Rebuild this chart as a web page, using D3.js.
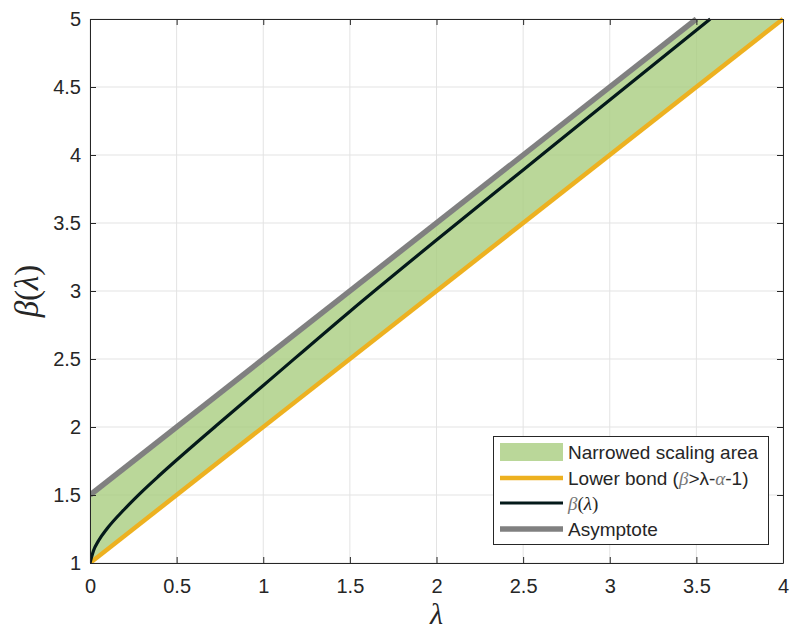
<!DOCTYPE html>
<html>
<head>
<meta charset="utf-8">
<script src="https://cdn.jsdelivr.net/npm/d3@7"></script>
<style>
  body { margin: 0; background: #fff; }
  svg { display: block; }
  text { font-family: "Liberation Sans", Arial, sans-serif; fill: #262626; }
</style>
</head>
<body>
<script>
// values
var lambdaVals = [0, 0.02, 0.05, 0.1, 0.2, 0.3, 0.4, 0.5, 0.75, 1, 1.5, 2, 2.5, 3, 3.58];
var betaVals   = [1, 1.09, 1.165, 1.255, 1.397, 1.525, 1.643, 1.757, 2.033, 2.305, 2.85, 3.375, 3.89, 4.405, 5.0];

var areaLambda = [0, 3.5, 4];
var areaUpper  = [1.5, 5, 5];
var areaLower  = [1, 4.5, 5];

var lowerLambda = [0, 4];
var lowerBeta   = [1, 5];

var asymLambda = [0, 3.5];
var asymBeta   = [1.5, 5];

var xTicks = [0, 0.5, 1, 1.5, 2, 2.5, 3, 3.5, 4];
var yTicks = [1, 1.5, 2, 2.5, 3, 3.5, 4, 4.5, 5];

var legendLabels = ["Narrowed scaling area", "Lower bond", "β(λ)", "Asymptote"];

var width = 792, height = 639;
var pLeft = 90, pRight = 783, pTop = 19, pBottom = 563;

var svg = d3.select("body").append("svg")
    .attr("width", width)
    .attr("height", height);

var x = d3.scaleLinear().domain([0, 4]).range([pLeft, pRight]);
var y = d3.scaleLinear().domain([1, 5]).range([pBottom, pTop]);

svg.append("defs").append("clipPath").attr("id", "plotclip")
  .append("rect")
    .attr("x", pLeft).attr("y", pTop - 2)
    .attr("width", pRight - pLeft + 2).attr("height", pBottom - pTop + 2);

// grid
svg.append("g").selectAll("line")
  .data(xTicks).enter().append("line")
    .attr("x1", function(d) { return x(d); })
    .attr("x2", function(d) { return x(d); })
    .attr("y1", pTop).attr("y2", pBottom)
    .attr("stroke", "#e3e3e3").attr("stroke-width", 1);
svg.append("g").selectAll("line")
  .data(yTicks).enter().append("line")
    .attr("y1", function(d) { return y(d); })
    .attr("y2", function(d) { return y(d); })
    .attr("x1", pLeft).attr("x2", pRight)
    .attr("stroke", "#e3e3e3").attr("stroke-width", 1);

var plot = svg.append("g").attr("clip-path", "url(#plotclip)");

// fill between lower bound and asymptote
var areaData = areaLambda.map(function(l, i) { return {l: l, lo: areaLower[i], hi: areaUpper[i]}; });
plot.append("path")
    .datum(areaData)
    .attr("fill", "#a9cd80")
    .attr("fill-opacity", 0.8)
    .attr("d", d3.area()
        .x(function(d) { return x(d.l); })
        .y0(function(d) { return y(d.lo); })
        .y1(function(d) { return y(d.hi); }));

var line = d3.line()
    .x(function(d) { return x(d[0]); })
    .y(function(d) { return y(d[1]); });

plot.append("path")
    .datum(d3.zip(lowerLambda, lowerBeta))
    .attr("fill", "none")
    .attr("stroke", "#edb120")
    .attr("stroke-width", 4.5)
    .attr("d", line);

plot.append("path")
    .datum(d3.zip(lambdaVals, betaVals))
    .attr("fill", "none")
    .attr("stroke", "#04191a")
    .attr("stroke-width", 3.2)
    .attr("d", d3.line()
        .x(function(d) { return x(d[0]); })
        .y(function(d) { return y(d[1]); })
        .curve(d3.curveMonotoneX));

plot.append("path")
    .datum(d3.zip(asymLambda, asymBeta))
    .attr("fill", "none")
    .attr("stroke", "#808080")
    .attr("stroke-width", 5.5)
    .attr("d", line);

// axes
var axisColor = "#262626";
var xAxis = svg.append("g")
    .attr("transform", "translate(0," + pBottom + ")")
    .call(d3.axisBottom(x).tickValues(xTicks).tickSizeInner(-6).tickSizeOuter(0).tickPadding(16)
        .tickFormat(d3.format("")));
var xAxisTop = svg.append("g")
    .attr("transform", "translate(0," + pTop + ")")
    .call(d3.axisTop(x).tickValues(xTicks).tickSizeInner(-6).tickSizeOuter(0).tickFormat(""));
var yAxis = svg.append("g")
    .attr("transform", "translate(" + pLeft + ",0)")
    .call(d3.axisLeft(y).tickValues(yTicks).tickSizeInner(-6).tickSizeOuter(0).tickPadding(9)
        .tickFormat(d3.format("")));
var yAxisRight = svg.append("g")
    .attr("transform", "translate(" + pRight + ",0)")
    .call(d3.axisRight(y).tickValues(yTicks).tickSizeInner(-6).tickSizeOuter(0).tickFormat(""));

[xAxis, xAxisTop, yAxis, yAxisRight].forEach(function(g) {
  g.select(".domain").attr("stroke", axisColor).attr("stroke-width", 1);
  g.selectAll(".tick line").attr("stroke", axisColor);
  g.selectAll(".tick text")
    .style("font-family", "'Liberation Sans', Arial, sans-serif")
    .style("font-size", "20px")
    .attr("fill", axisColor);
});

// axis labels
svg.append("text")
    .attr("x", (pLeft + pRight) / 2)
    .attr("y", 624)
    .attr("text-anchor", "middle")
    .style("font-family", "'Liberation Serif', 'DejaVu Serif', serif")
    .style("font-style", "italic")
    .style("font-size", "30px")
    .text("λ");

var yl = svg.append("text")
    .attr("transform", "translate(38," + ((pTop + pBottom) / 2) + ") rotate(-90)")
    .attr("text-anchor", "middle")
    .style("font-family", "'Liberation Serif', 'DejaVu Serif', serif")
    .style("font-size", "33px");
yl.append("tspan").style("font-style", "italic").text("β");
yl.append("tspan").text("(");
yl.append("tspan").style("font-style", "italic").text("λ");
yl.append("tspan").text(")");

// legend
var lg = svg.append("g");
lg.append("rect")
    .attr("x", 493.5).attr("y", 436.5)
    .attr("width", 275).attr("height", 108)
    .attr("fill", "#fff")
    .attr("stroke", "#262626").attr("stroke-width", 1);

var rowY = [452, 478, 503, 529];
lg.append("rect")
    .attr("x", 500).attr("y", rowY[0] - 9)
    .attr("width", 63).attr("height", 18)
    .attr("fill", "#a9cd80").attr("fill-opacity", 0.8);
var legendStyles = [null, ["#edb120", 4.5], ["#04191a", 3.2], ["#808080", 5.5]];
legendStyles.forEach(function(s, i) {
  if (!s) return;
  lg.append("line")
      .attr("x1", 500).attr("x2", 563)
      .attr("y1", rowY[i]).attr("y2", rowY[i])
      .attr("stroke", s[0]).attr("stroke-width", s[1]);
});

var lt = lg.selectAll("text.leg")
  .data(legendLabels).enter().append("text")
    .attr("class", "leg")
    .attr("x", 568)
    .attr("y", function(d, i) { return rowY[i] + 7; })
    .style("font-size", "19px");
lt.each(function(d, i) {
  var t = d3.select(this);
  if (i === 0 || i === 3) { t.text(d); }
  else if (i === 1) {
    t.append("tspan").text(d + " (");
    t.append("tspan").style("font-family", "'Liberation Serif', serif").style("font-style", "italic").attr("fill", "#777").text("β");
    t.append("tspan").text(">λ-");
    t.append("tspan").style("font-family", "'Liberation Serif', serif").style("font-style", "italic").attr("fill", "#777").text("α");
    t.append("tspan").text("-1)");
  } else {
    t.append("tspan").style("font-family", "'Liberation Serif', serif").style("font-style", "italic").attr("fill", "#777").text("β");
    t.append("tspan").style("font-family", "'Liberation Serif', serif").text("(");
    t.append("tspan").style("font-family", "'Liberation Serif', serif").style("font-style", "italic").text("λ");
    t.append("tspan").style("font-family", "'Liberation Serif', serif").text(")");
  }
});
</script>
</body>
</html>
